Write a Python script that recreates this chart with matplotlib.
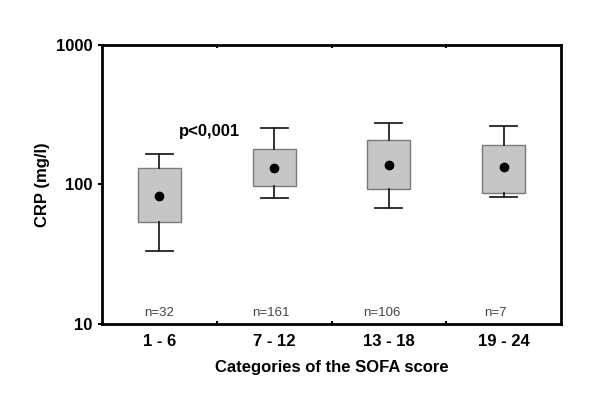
import matplotlib
matplotlib.use("Agg")
import matplotlib.pyplot as plt
from matplotlib.ticker import FixedLocator, NullLocator

categories = ["1 - 6", "7 - 12", "13 - 18", "19 - 24"]
n_labels = ["n=32", "n=161", "n=106", "n=7"]
whisker_low = [33.4, 80.4, 68.2, 81]
q1 = [53.8, 97.6, 93.3, 86.5]
center = [82.7, 130.6, 138, 134]
q3 = [132, 179, 208, 191]
whisker_high = [164.6, 255, 277, 262]
y_ticks = [10, 100, 1000]

plt.rcParams['font.family'] = ['Liberation Sans', 'DejaVu Sans']

fig = plt.figure(figsize=(6, 4.05), dpi=100)
ax = fig.add_axes([0.17, 0.2, 0.765, 0.689])

positions = [i + 0.5 for i in range(len(categories))]
stats = []
for i in range(len(categories)):
    stats.append(dict(med=center[i], mean=center[i], q1=q1[i], q3=q3[i],
                      whislo=whisker_low[i], whishi=whisker_high[i], fliers=[]))

ax.bxp(stats, positions=positions, widths=0.375, capwidths=0.235,
       showmeans=True, showfliers=False, patch_artist=True,
       boxprops=dict(facecolor='#c6c6c6', edgecolor='#7a7a7a', linewidth=1.0),
       whiskerprops=dict(color='#222222', linewidth=1.3),
       capprops=dict(color='#222222', linewidth=1.3),
       medianprops=dict(linewidth=0, color='none'),
       meanprops=dict(marker='o', markerfacecolor='black', markeredgecolor='black', markersize=6))

ax.set_yscale('log')
ax.set_ylim(10, 1000)
ax.set_xlim(0, 4)
ax.yaxis.set_major_locator(FixedLocator(y_ticks))
ax.yaxis.set_minor_locator(NullLocator())
ax.set_yticklabels([str(v) for v in y_ticks], fontsize=12, fontweight='bold')
ax.tick_params(axis='y', which='major', direction='out', length=3, width=1.5, pad=4)

ax.xaxis.set_major_locator(FixedLocator([1, 2, 3]))
ax.xaxis.set_minor_locator(FixedLocator(positions))
ax.set_xticklabels([], minor=False)
ax.set_xticklabels(categories, minor=True, fontsize=12, fontweight='bold')
ax.tick_params(axis='x', which='minor', length=0, pad=7)
ax.tick_params(axis='x', which='major', direction='in', length=2, width=1.5, top=True)

for s in ax.spines.values():
    s.set_linewidth(2.0)
    s.set_color('black')

ax.set_ylabel("CRP (mg/l)", fontsize=12, fontweight='bold', labelpad=4)
ax.set_xlabel("Categories of the SOFA score", fontsize=12, fontweight='bold', labelpad=8)

n_x_offsets = [0.0, -0.03, -0.06, -0.07]
for i, lab in enumerate(n_labels):
    ax.text(positions[i] + n_x_offsets[i], 12.0, lab, ha='center', va='center',
            fontsize=9.5, color='#444444')

ax.text(0.94, 238, "p<0,001", ha='center', va='center', fontsize=12, fontweight='bold')

fig.savefig("out.png", dpi=100)
